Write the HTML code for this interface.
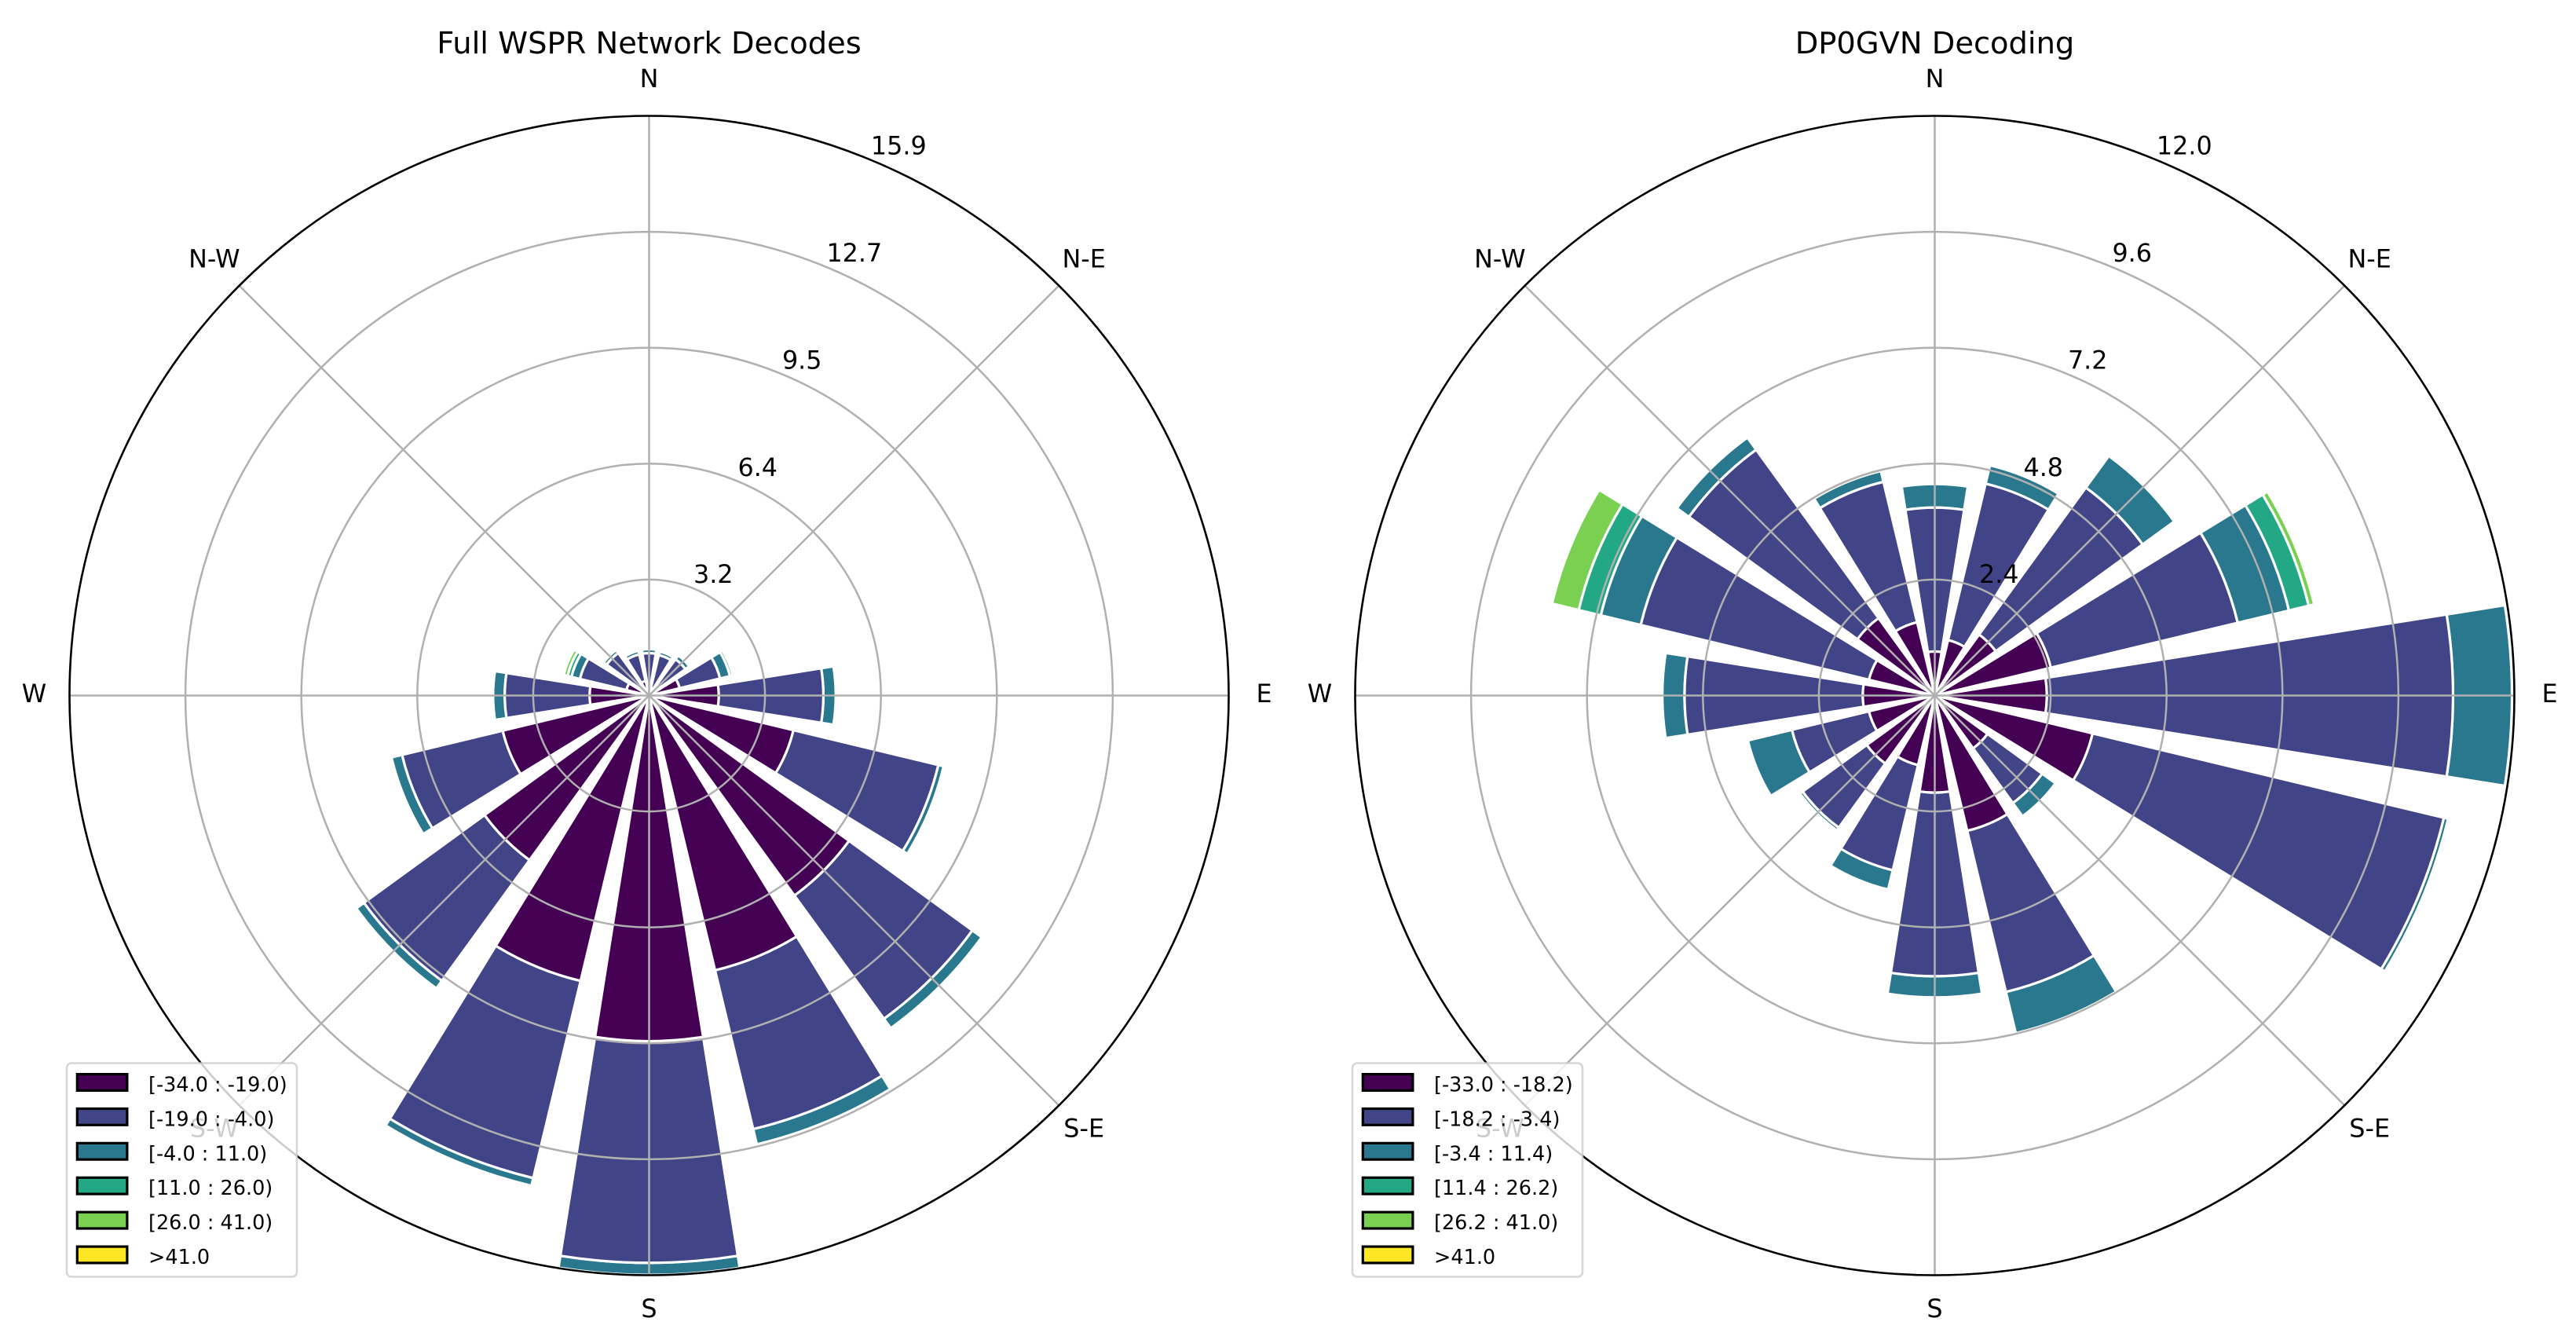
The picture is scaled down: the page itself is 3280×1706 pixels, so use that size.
<!DOCTYPE html>
<html lang="en">
<head>
<meta charset="utf-8">
<title>WSPR Wind Roses</title>
<style>
  html, body { margin: 0; padding: 0; background: #ffffff; }
  svg { display: block; font-family: "DejaVu Sans", "Liberation Sans", sans-serif; }
</style>
</head>
<body>
<svg id="figure" xmlns="http://www.w3.org/2000/svg" width="3280" height="1706" viewBox="0 0 3280 1706">
  <rect x="0" y="0" width="3280" height="1706" fill="#ffffff"/>
  <g id="panel-left"></g>
  <g id="panel-right"></g>
</svg>
<script>
// Shared categories
const sectors = ['N','NNE','NE','ENE','E','ESE','SE','SSE','S','SSW','SW','WSW','W','WNW','NW','NNW'];
const axisLabels = ['N','N-E','E','S-E','S','S-W','W','N-W'];
const binColors = ['#440154','#414487','#2a788e','#22a884','#7ad151','#fde725'];

// Left chart: Full WSPR Network Decodes (values per sector, N clockwise)
const leftTitle = 'Full WSPR Network Decodes';
const leftRingValues = [3.18, 6.36, 9.54, 12.72, 15.9];
const leftLegend = ['[-34.0 : -19.0)','[-19.0 : -4.0)','[-4.0 : 11.0)','[11.0 : 26.0)','[26.0 : 41.0)','>41.0'];
const leftBin1 = [0.15,0.21,0.26,0.86,1.91,4.07,6.78,7.75,9.48,8.05,5.58,4.13,1.63,0.64,0.21,0.41];
const leftBin2 = [1.01,0.93,0.97,1.14,2.87,4.09,4.18,4.48,6.08,5.56,4.09,2.84,2.33,1.31,1.23,0.75];
const leftBin3 = [0.11,0.10,0.13,0.28,0.34,0.15,0.32,0.43,0.33,0.22,0.26,0.30,0.32,0.24,0.10,0.10];
const leftBin4 = [0,0,0,0.08,0,0,0,0,0,0,0,0,0,0.11,0,0];
const leftBin5 = [0,0,0,0,0,0,0,0,0,0,0,0,0,0.11,0,0];
const leftBin6 = [0,0,0,0,0,0,0,0,0,0,0,0,0,0,0,0];

// Right chart: DP0GVN Decoding (values per sector, N clockwise)
const rightTitle = 'DP0GVN Decoding';
const rightRingValues = [2.4, 4.8, 7.2, 9.6, 12.0];
const rightLegend = ['[-33.0 : -18.2)','[-18.2 : -3.4)','[-3.4 : 11.4)','[11.4 : 26.2)','[26.2 : 41.0)','>41.0'];
const rightBin1 = [0.91,1.18,1.56,2.47,2.32,3.36,1.35,2.88,2.01,1.48,1.74,1.40,1.49,1.40,1.98,1.56];
const rightBin2 = [2.98,3.33,3.76,3.98,8.41,7.48,1.40,3.43,3.80,2.24,1.64,1.64,3.69,4.86,4.31,2.99];
const rightBin3 = [0.49,0.39,0.81,1.09,1.22,0.09,0.34,0.88,0.44,0.41,0.07,0.94,0.46,0.85,0.31,0.23];
const rightBin4 = [0,0,0,0.42,0.05,0,0,0,0,0,0,0,0,0.47,0,0];
const rightBin5 = [0,0,0,0.12,0,0,0,0,0,0,0,0,0,0.57,0,0];
const rightBin6 = [0,0,0,0,0,0,0,0,0,0,0,0,0,0,0,0];

const SVG_NS = 'http://www.w3.org/2000/svg';
const OUTER_R = 738;
const CY = 885.5;
const OPENING = 18;

function make(tag, attrs, parent) {
  const el = document.createElementNS(SVG_NS, tag);
  for (const k in attrs) el.setAttribute(k, attrs[k]);
  parent.appendChild(el);
  return el;
}

function drawRose(root, cx, legendX, title, ringValues, bins, legendLabels) {
  const rmax = ringValues[ringValues.length - 1];
  const rScale = v => v / rmax * OUTER_R;
  const px = (r, deg) => (cx + r * Math.sin(deg * Math.PI / 180)).toFixed(2);
  const py = (r, deg) => (CY - r * Math.cos(deg * Math.PI / 180)).toFixed(2);

  // Stacked wedges: high bins first so low bins sit on top
  for (let b = bins.length - 1; b >= 0; b--) {
    for (let s = 0; s < sectors.length; s++) {
      if (bins[b][s] <= 0) continue;
      let offset = 0;
      for (let k = 0; k < b; k++) offset += bins[k][s];
      const r0 = rScale(offset);
      const r1 = rScale(offset + bins[b][s]);
      const a = s * 22.5 - OPENING / 2;
      const c = s * 22.5 + OPENING / 2;
      const d = 'M' + px(r0, a) + ' ' + py(r0, a) +
        ' L' + px(r1, a) + ' ' + py(r1, a) +
        ' A' + r1.toFixed(2) + ' ' + r1.toFixed(2) + ' 0 0 1 ' + px(r1, c) + ' ' + py(r1, c) +
        ' L' + px(r0, c) + ' ' + py(r0, c) +
        (r0 > 0 ? ' A' + r0.toFixed(2) + ' ' + r0.toFixed(2) + ' 0 0 0 ' + px(r0, a) + ' ' + py(r0, a) : '') + ' Z';
      const wedge = make('path', {d: d, fill: binColors[b], stroke: '#ffffff', 'stroke-width': 3.2, 'stroke-linejoin': 'miter', 'stroke-miterlimit': 10}, root);
      
      
    }
  }

  // Grid rings
  ringValues.forEach(v => {
    const isOuter = v === rmax;
    if (isOuter) return;
    const ring = make('circle', {cx: cx, cy: CY, r: rScale(v).toFixed(2), fill: 'none', stroke: '#b0b0b0', 'stroke-width': 2.5}, root);
    
    
  });

  // Grid spokes
  axisLabels.forEach((name, i) => {
    const deg = i * 45;
    const spoke = make('line', {x1: cx, y1: CY, x2: px(OUTER_R, deg), y2: py(OUTER_R, deg), stroke: '#b0b0b0', 'stroke-width': 2.5}, root);
    
    
  });

  // Outer spine
  const spine = make('circle', {cx: cx, cy: CY, r: OUTER_R, fill: 'none', stroke: '#000000', 'stroke-width': 2.6}, root);
  
  

  // Direction labels
  axisLabels.forEach((name, i) => {
    const deg = i * 45;
    const t = make('text', {x: px(783, deg), y: (parseFloat(py(783, deg)) + 8.5).toFixed(2), 'text-anchor': 'middle', 'font-size': 31.8, fill: '#000000'}, root);
    t.textContent = name;
    
    
  });

  // Radial tick labels
  ringValues.forEach(v => {
    const r = rScale(v);
    const t = make('text', {x: (parseFloat(px(r, 22.5))).toFixed(2), y: (parseFloat(py(r, 22.5)) - 7).toFixed(2), 'text-anchor': 'start', 'font-size': 31.8, fill: '#000000'}, root);
    t.textContent = v.toFixed(1);
    
    
  });

  // Title
  const tt = make('text', {x: cx, y: 68, 'text-anchor': 'middle', 'font-size': 38.4, fill: '#000000'}, root);
  tt.textContent = title;
  
  

  // Legend
  const frame = make('rect', {x: legendX, y: 1353.5, width: 293, height: 272, rx: 6, ry: 6, fill: '#ffffff', 'fill-opacity': 0.8, stroke: '#cccccc', 'stroke-opacity': 0.8, 'stroke-width': 2.6}, root);
  
  
  legendLabels.forEach((label, i) => {
    const sw = make('rect', {x: legendX + 13.3, y: (1367.6 + i * 43.9).toFixed(2), width: 63.6, height: 20.8, fill: binColors[i], stroke: '#000000', 'stroke-width': 3.2}, root);
    
    
    const t = make('text', {x: legendX + 104, y: (1389.5 + i * 43.9).toFixed(2), 'font-size': 25.5, fill: '#000000'}, root);
    t.textContent = label;
    
    
  });
}

drawRose(document.getElementById('panel-left'), 826.5, 85, leftTitle, leftRingValues,
  [leftBin1, leftBin2, leftBin3, leftBin4, leftBin5, leftBin6], leftLegend);
drawRose(document.getElementById('panel-right'), 2463.5, 1722, rightTitle, rightRingValues,
  [rightBin1, rightBin2, rightBin3, rightBin4, rightBin5, rightBin6], rightLegend);
</script>
</body>
</html>
